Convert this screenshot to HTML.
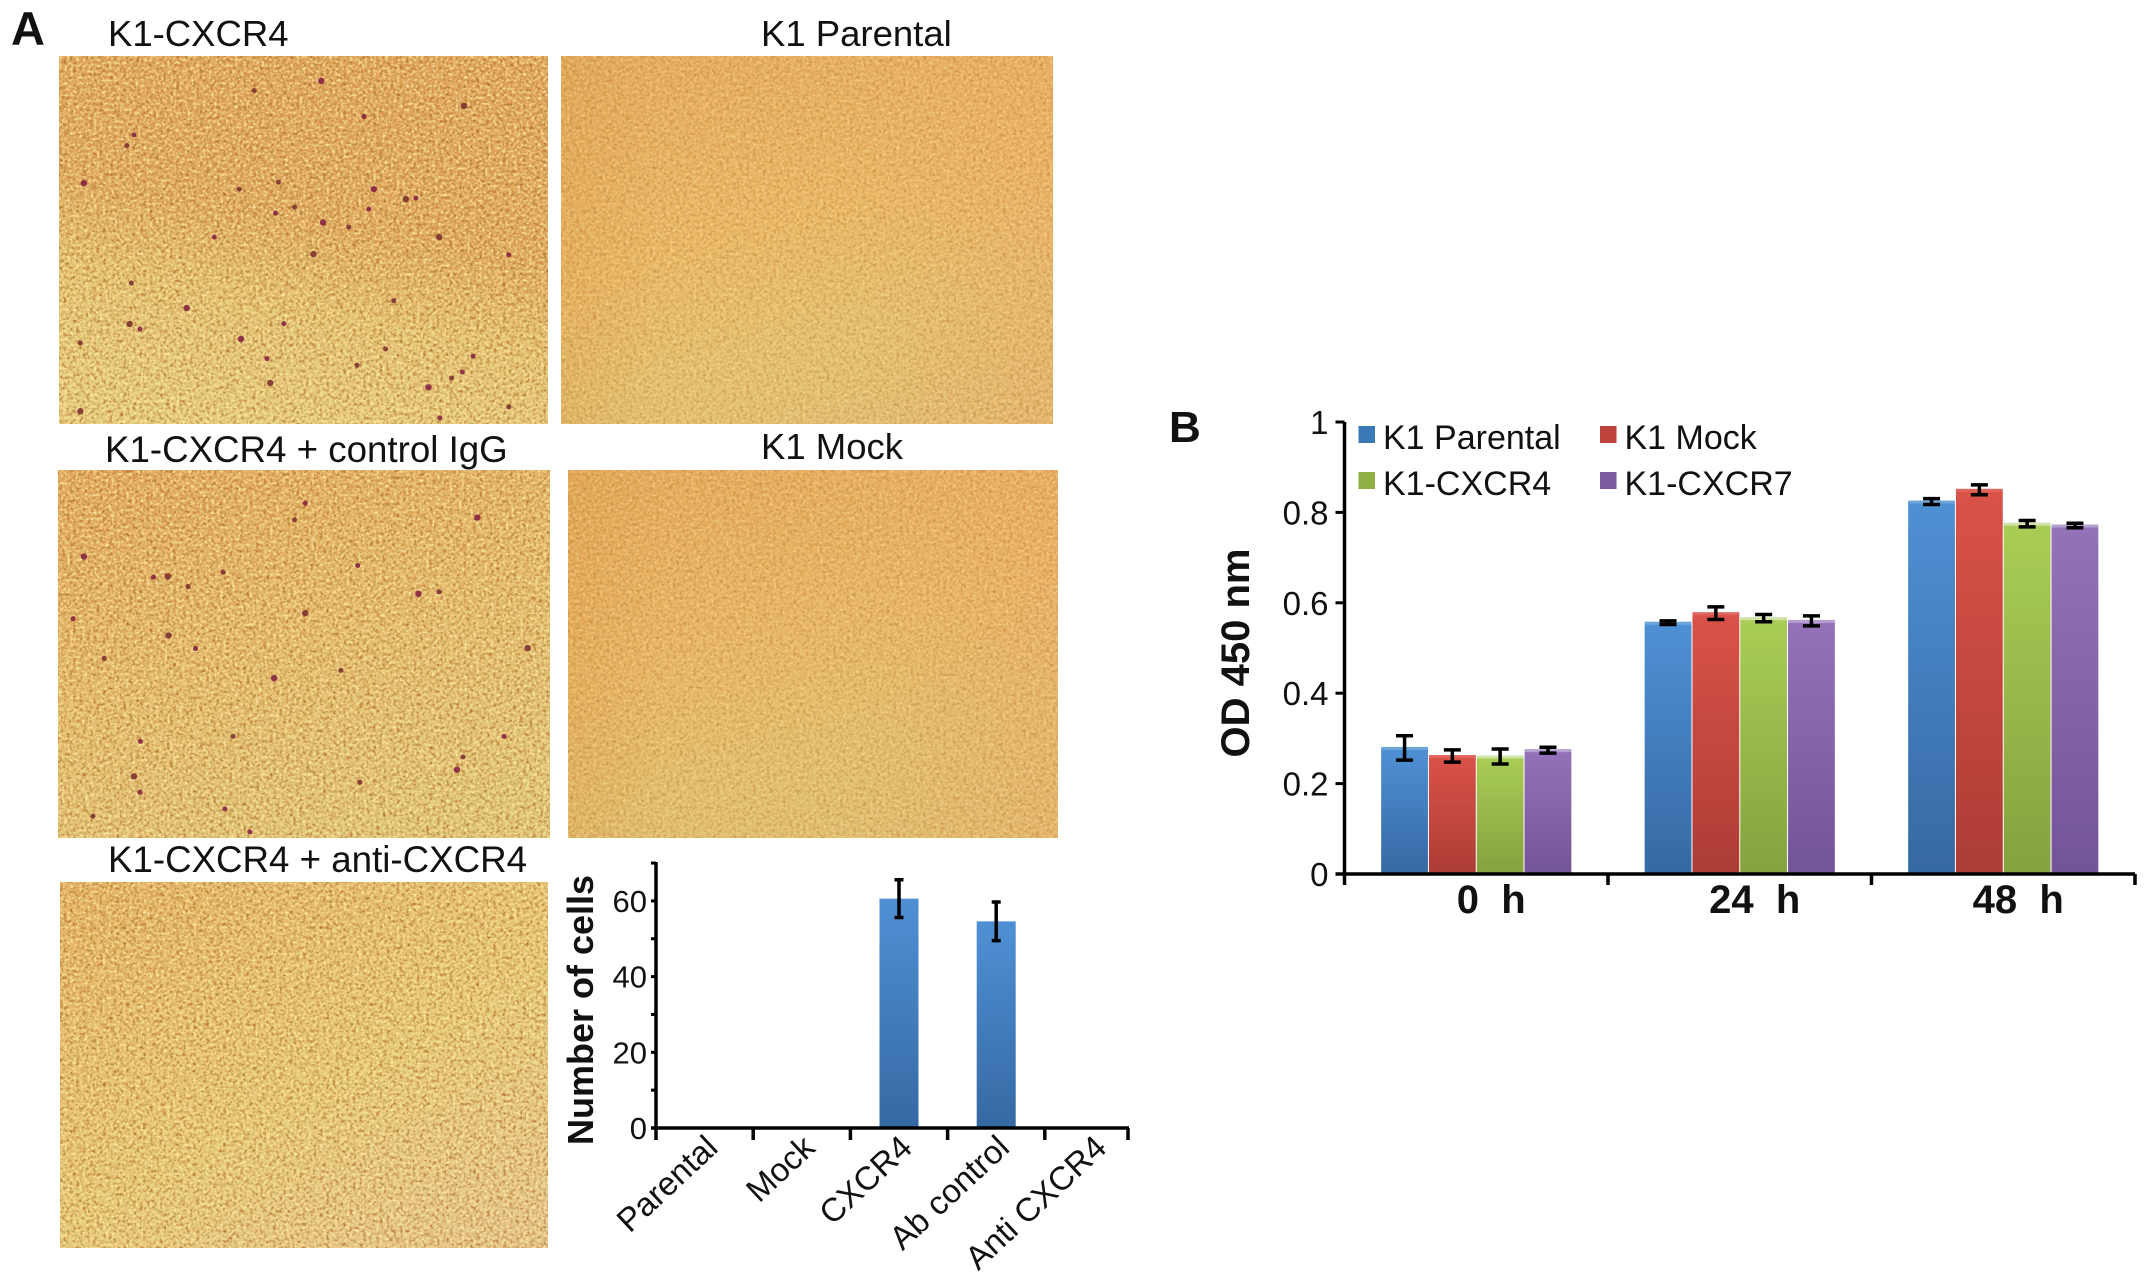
<!DOCTYPE html>
<html lang="en">
<head>
<meta charset="utf-8">
<title>K1 CXCR4 migration and proliferation figure</title>
<style>
html,body{margin:0;padding:0;background:#fff;}
svg{display:block;}
text{font-family:"Liberation Sans",sans-serif;fill:#111;}
</style>
</head>
<body>
<svg id="fig" xmlns="http://www.w3.org/2000/svg" width="2150" height="1285" viewBox="0 0 2150 1285">
<defs>
<filter id="grain" x="0" y="0" width="1" height="1" color-interpolation-filters="sRGB">
<feTurbulence type="fractalNoise" baseFrequency="0.3" numOctaves="2" seed="4"/>
<feColorMatrix type="matrix" values="0 0 0 0 0.68  0 0 0 0 0.42  0 0 0 0 0.14  2.2 0 0 0 -0.95"/>
</filter>
<filter id="glow" x="0" y="0" width="1" height="1" color-interpolation-filters="sRGB">
<feTurbulence type="fractalNoise" baseFrequency="0.34" numOctaves="2" seed="11"/>
<feColorMatrix type="matrix" values="0 0 0 0 1  0 0 0 0 0.93  0 0 0 0 0.66  2.2 0 0 0 -0.95"/>
</filter>
<linearGradient id="p1" x1="0.62" y1="0" x2="0.38" y2="1"><stop offset="0" stop-color="#e0a45a"/><stop offset="0.45" stop-color="#dfa85e"/><stop offset="0.68" stop-color="#e4c474"/><stop offset="1" stop-color="#e6cf82"/></linearGradient>
<linearGradient id="p2" x1="0.2" y1="0" x2="0.55" y2="1"><stop offset="0" stop-color="#e6ac5e"/><stop offset="0.5" stop-color="#eab966"/><stop offset="0.8" stop-color="#e4c272"/><stop offset="1" stop-color="#e2c074"/></linearGradient>
<linearGradient id="p3" x1="0.2" y1="0" x2="0.6" y2="1"><stop offset="0" stop-color="#e2a85c"/><stop offset="0.5" stop-color="#e4bc6e"/><stop offset="1" stop-color="#e0c87a"/></linearGradient>
<linearGradient id="p4" x1="0.2" y1="0" x2="0.55" y2="1"><stop offset="0" stop-color="#e6ab5c"/><stop offset="0.5" stop-color="#e8b866"/><stop offset="0.8" stop-color="#e2c070"/><stop offset="1" stop-color="#e0bf72"/></linearGradient>
<linearGradient id="p5" x1="0.1" y1="0" x2="0.8" y2="1"><stop offset="0" stop-color="#e4b262"/><stop offset="0.3" stop-color="#e6c070"/><stop offset="0.6" stop-color="#e6cc7a"/><stop offset="1" stop-color="#e6c88e"/></linearGradient>
<linearGradient id="edges" x1="0" y1="0" x2="1" y2="0"><stop offset="0" stop-color="#d99a48" stop-opacity="0.3"/><stop offset="0.2" stop-color="#d99a48" stop-opacity="0"/><stop offset="0.6" stop-color="#eca866" stop-opacity="0"/><stop offset="1" stop-color="#eca866" stop-opacity="0.45"/></linearGradient>
<linearGradient id="fill-blue" x1="0" y1="0" x2="0" y2="1"><stop offset="0" stop-color="#4f90d4"/><stop offset="1" stop-color="#3669a3"/></linearGradient>
<linearGradient id="fill-red" x1="0" y1="0" x2="0" y2="1"><stop offset="0" stop-color="#da524a"/><stop offset="1" stop-color="#ac3d35"/></linearGradient>
<linearGradient id="fill-green" x1="0" y1="0" x2="0" y2="1"><stop offset="0" stop-color="#aacd56"/><stop offset="1" stop-color="#84a23e"/></linearGradient>
<linearGradient id="fill-purple" x1="0" y1="0" x2="0" y2="1"><stop offset="0" stop-color="#9472b9"/><stop offset="1" stop-color="#745498"/></linearGradient>
</defs>

<text x="11" y="45" font-size="47" font-weight="bold">A</text>
<text x="1169" y="442" font-size="44" font-weight="bold">B</text>

<text x="108" y="46" font-size="36.5">K1-CXCR4</text>
<text x="761" y="46" font-size="36.5">K1 Parental</text>
<text x="105" y="462" font-size="36.7">K1-CXCR4 + control IgG</text>
<text x="761" y="459" font-size="36.5">K1 Mock</text>
<text x="108" y="872" font-size="36.7">K1-CXCR4 + anti-CXCR4</text>

<g>
<rect x="59" y="56" width="489" height="368" fill="url(#p1)"/>
<rect x="59" y="56" width="489" height="368" filter="url(#grain)"/>
<rect x="59" y="56" width="489" height="368" filter="url(#glow)"/>
<g id="spots1"></g>
</g>
<g>
<rect x="561" y="56" width="492" height="368" fill="url(#p2)"/>
<rect x="561" y="56" width="492" height="368" fill="url(#edges)"/>
<rect x="561" y="56" width="492" height="368" filter="url(#grain)" opacity="0.5"/>
<rect x="561" y="56" width="492" height="368" filter="url(#glow)" opacity="0.5"/>
</g>
<g>
<rect x="58" y="470" width="492" height="368" fill="url(#p3)"/>
<rect x="58" y="470" width="492" height="368" filter="url(#grain)"/>
<rect x="58" y="470" width="492" height="368" filter="url(#glow)"/>
<g id="spots3"></g>
</g>
<g>
<rect x="568" y="470" width="490" height="368" fill="url(#p4)"/>
<rect x="568" y="470" width="490" height="368" fill="url(#edges)"/>
<rect x="568" y="470" width="490" height="368" filter="url(#grain)" opacity="0.5"/>
<rect x="568" y="470" width="490" height="368" filter="url(#glow)" opacity="0.5"/>
</g>
<g>
<rect x="60" y="882" width="488" height="366" fill="url(#p5)"/>
<rect x="60" y="882" width="488" height="366" filter="url(#grain)"/>
<rect x="60" y="882" width="488" height="366" filter="url(#glow)"/>
</g>

<g id="chart-a">
<text transform="translate(593,1010) rotate(-90)" text-anchor="middle" font-size="36" font-weight="bold">Number of cells</text>
</g>

<g id="chart-b">
<text transform="translate(1249,653) rotate(-90)" text-anchor="middle" font-size="40" font-weight="bold">OD 450 nm</text>
</g>
</svg>

<script>
// Chart A: number of migrated cells
const cellCategories = ["Parental", "Mock", "CXCR4", "Ab control", "Anti CXCR4"];
const cellCounts = [0, 0, 60.6, 54.6, 0];
const cellErrors = [0, 0, 5, 5.1, 0];
const cellMajorTicks = [0, 20, 40, 60];
const cellMinorTicks = [10, 30, 50, 70];

// Chart B: OD 450 nm by time point
const timeCategories = ["0  h", "24  h", "48  h"];
const seriesNames = ["K1 Parental", "K1 Mock", "K1-CXCR4", "K1-CXCR7"];
const parentalValues = [0.279, 0.556, 0.824];
const mockValues = [0.261, 0.577, 0.850];
const cxcr4Values = [0.260, 0.566, 0.775];
const cxcr7Values = [0.274, 0.560, 0.771];
const parentalErrors = [0.027, 0.004, 0.0065];
const mockErrors = [0.0135, 0.014, 0.011];
const cxcr4Errors = [0.0165, 0.008, 0.007];
const cxcr7Errors = [0.0065, 0.011, 0.005];
const odTicks = [0, 0.2, 0.4, 0.6, 0.8, 1];

// Stained cells visible in the two micrographs
const cellSpots1 = [[900,243],[712,272],[1020,350],[1300,318],[375,405],[355,437],[235,550],[670,568],[1033,628],[1137,598],[1165,595],[825,622],[905,668],[977,682],[600,712],[878,763],[1425,765],[368,850],[523,925],[1103,903],[795,972],[363,973],[392,988],[225,1030],[675,1018],[1080,1048],[748,1077],[757,1150],[1295,1117],[1265,1135],[1200,1163],[1425,1222],[1232,1255],[225,1235],[1325,1070],[1000,1097],[1047,568],[780,547],[772,640],[1230,712]];
const cellSpots3 = [[1337,293],[625,457],[1002,437],[470,470],[430,472],[527,500],[1172,522],[1230,516],[205,597],[472,647],[548,686],[292,716],[768,775],[955,752],[393,965],[375,1070],[392,1118],[653,950],[1280,1050],[1297,1012],[1412,950],[1478,685],[700,1237],[260,1190],[235,410],[825,300],[855,250],[855,580],[630,1168],[1008,1088]];

const NS = "http://www.w3.org/2000/svg";
function mk(parent, tag, attrs, txt) {
  const el = document.createElementNS(NS, tag);
  for (const k in attrs) el.setAttribute(k, attrs[k]);
  if (txt !== undefined) el.textContent = txt;
  parent.appendChild(el);
  return el;
}

function drawSpots(id, list, y0) {
  const g = document.getElementById(id);
  list.forEach(function (s, i) {
    const c = mk(g, "circle", {cx: s[0] * 0.357, cy: y0 + s[1] * 0.333, r: i % 3 === 0 ? 3.2 : 2.5, fill: i % 2 ? "#7c3330" : "#862444", opacity: 0.9});
    
    
  });
}
drawSpots("spots1", cellSpots1, 0);
drawSpots("spots3", cellSpots3, 420);

// ---------- Chart A ----------
(function () {
  const g = document.getElementById("chart-a");
  const x0 = 656, xEnd = 1129, step = 97.2, y0 = 1128, perUnit = 3.785, barW = 39;
  const xBand = function (i) { return x0 + i * step; };
  const xMid = function (i) { return x0 + (i + 0.5) * step; };
  const y = function (v) { return y0 - v * perUnit; };

  cellCategories.forEach(function (c, i) {
    if (cellCounts[i] > 0) {
      const b = mk(g, "rect", {x: xMid(i) - barW / 2, y: y(cellCounts[i]), width: barW, height: y0 - y(cellCounts[i]), fill: "url(#fill-blue)"});
      
      
    }
    if (cellErrors[i] > 0) {
      const e = mk(g, "path", {d: "M" + (xMid(i) - 4.5) + " " + y(cellCounts[i] + cellErrors[i]) + "h9M" + xMid(i) + " " + y(cellCounts[i] + cellErrors[i]) + "V" + y(cellCounts[i] - cellErrors[i]) + "M" + (xMid(i) - 4.5) + " " + y(cellCounts[i] - cellErrors[i]) + "h9", stroke: "#000", "stroke-width": 3.5, fill: "none"});
      
      
    }
    const t = mk(g, "text", {transform: "translate(" + (xMid(i) + 15) + ",1150) rotate(-43)", "text-anchor": "end", "font-size": 33}, c);
    
    
    const k = mk(g, "line", {x1: xBand(i), x2: xBand(i), y1: y0, y2: y0 + 12, stroke: "#000", "stroke-width": 3.5});
    
    
  });
  const last = mk(g, "line", {x1: xEnd - 1, x2: xEnd - 1, y1: y0, y2: y0 + 12, stroke: "#000", "stroke-width": 3.5});
  
  

  cellMajorTicks.forEach(function (v) {
    const k = mk(g, "line", {x1: x0 - 5, x2: x0, y1: y(v), y2: y(v), stroke: "#000", "stroke-width": 3});
    
    
    const t = mk(g, "text", {x: x0 - 9, y: y(v) + 11, "text-anchor": "end", "font-size": 31}, String(v));
    
    
  });
  cellMinorTicks.forEach(function (v) {
    const k = mk(g, "line", {x1: x0 - 5, x2: x0, y1: y(v), y2: y(v), stroke: "#000", "stroke-width": 3});
    
    
  });
  const ya = mk(g, "line", {x1: x0, x2: x0, y1: y(70) - 1, y2: y0 + 1, stroke: "#000", "stroke-width": 3.5});
  
  
  const xa = mk(g, "line", {x1: x0 - 5, x2: xEnd, y1: y0, y2: y0, stroke: "#000", "stroke-width": 3.5});
  
  
})();

// ---------- Chart B ----------
(function () {
  const g = document.getElementById("chart-b");
  const x0 = 1344.5, step = 263.5, y0 = 874, yH = 452, barW = 47.8;
  const seriesValues = [parentalValues, mockValues, cxcr4Values, cxcr7Values];
  const seriesErrors = [parentalErrors, mockErrors, cxcr4Errors, cxcr7Errors];
  const fills = ["fill-blue", "fill-red", "fill-green", "fill-purple"];
  const tops = ["#6ea6dc", "#e0655c", "#cfe3a8", "#b49fd0"];
  const swatches = ["#3b78b6", "#bd4239", "#8fae44", "#7b5a9f"];
  const xMid = function (i) { return x0 + (i + 0.5) * step; };
  const y = function (v) { return y0 - v * yH; };

  seriesValues.forEach(function (vals, s) {
    vals.forEach(function (v, i) {
      const bx = xMid(i) + (s - 2) * barW;
      const b = mk(g, "rect", {x: bx + 0.5, y: y(v), width: barW - 1, height: y0 - y(v), fill: "url(#" + fills[s] + ")"});
      
      
      const h = mk(g, "rect", {x: bx + 0.5, y: y(v) - 1, width: barW - 1, height: 3, fill: tops[s]});
      
      
    });
  });
  seriesValues.forEach(function (vals, s) {
    vals.forEach(function (v, i) {
      const cx = xMid(i) + (s - 2) * barW + barW / 2;
      const e = seriesErrors[s][i];
      const p = mk(g, "path", {d: "M" + (cx - 8.5) + " " + y(v + e) + "h17M" + cx + " " + y(v + e) + "V" + y(v - e) + "M" + (cx - 8.5) + " " + y(v - e) + "h17", stroke: "#000", "stroke-width": 3.5, fill: "none"});
      
      
    });
  });

  timeCategories.forEach(function (c, i) {
    const t = mk(g, "text", {x: xMid(i) + 15, y: 913, "text-anchor": "middle", "font-size": 40, "font-weight": "bold", "xml:space": "preserve", style: "white-space:pre"}, c);
    
    
  });
  [0, 1, 2, 3].forEach(function (i) {
    const k = mk(g, "line", {x1: x0 + i * step, x2: x0 + i * step, y1: y0, y2: y0 + 11, stroke: "#000", "stroke-width": 3.5});
    
    
  });
  odTicks.forEach(function (v) {
    const k = mk(g, "line", {x1: x0 - 9, x2: x0, y1: y(v), y2: y(v), stroke: "#000", "stroke-width": 3});
    
    
    const t = mk(g, "text", {x: x0 - 16, y: y(v) + 12, "text-anchor": "end", "font-size": 33}, String(v));
    
    
  });
  const ya = mk(g, "line", {x1: x0, x2: x0, y1: y(1), y2: y0 + 1, stroke: "#000", "stroke-width": 3.5});
  
  
  const xa = mk(g, "line", {x1: x0 - 9, x2: x0 + 3 * step, y1: y0, y2: y0, stroke: "#000", "stroke-width": 3.5});
  
  

  const legendX = [1358.5, 1600, 1358.5, 1600];
  const legendY = [426, 426, 472, 472];
  seriesNames.forEach(function (n, s) {
    const r = mk(g, "rect", {x: legendX[s], y: legendY[s], width: 16.5, height: 17, fill: swatches[s]});
    
    
    const t = mk(g, "text", {x: legendX[s] + 24.5, y: legendY[s] + 23, "font-size": 34}, n);
    
    
  });
})();
</script>
</body>
</html>
